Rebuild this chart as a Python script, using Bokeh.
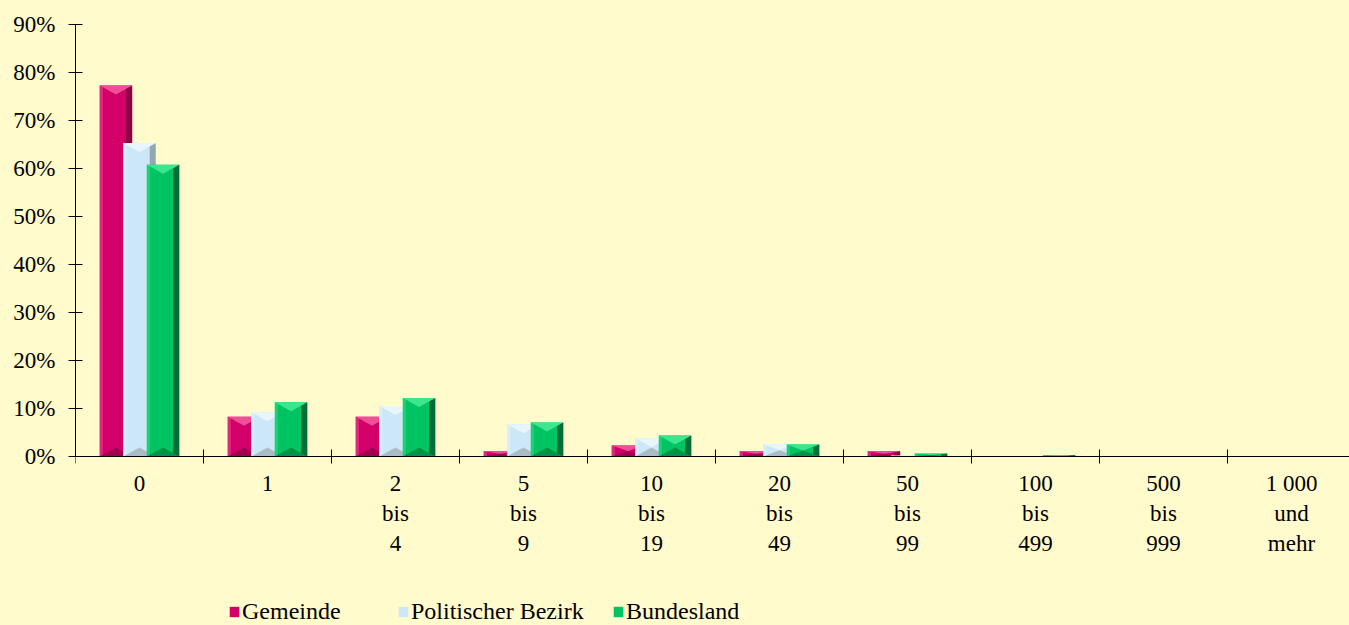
from bokeh.plotting import figure
from bokeh.models import (Range1d, FixedTicker, Legend, LegendItem, ColumnDataSource)
from bokeh.embed import file_html
from bokeh.resources import INLINE

# ---- data ----
categories = ["0", "1", "2\nbis\n4", "5\nbis\n9", "10\nbis\n19", "20\nbis\n49",
              "50\nbis\n99", "100\nbis\n499", "500\nbis\n999", "1 000\nund\nmehr"]
series_names = ["Gemeinde", "Politischer Bezirk", "Bundesland"]
gemeinde = [77.3, 8.3, 8.3, 1.1, 2.3, 1.1, 1.1, 0.0, 0.0, 0.0]
bezirk = [65.3, 9.2, 10.5, 6.7, 3.8, 2.6, 0.2, 0.1, 0.05, 0.0]
bundesland = [60.8, 11.3, 12.2, 7.1, 4.4, 2.5, 0.6, 0.3, 0.05, 0.02]
y_ticks = [0, 10, 20, 30, 40, 50, 60, 70, 80, 90]
y_tick_labels = ["0%", "10%", "20%", "30%", "40%", "50%", "60%", "70%", "80%", "90%"]

BG = "#FFFBCC"
FONT = "Liberation Serif"
# base, top facet, right facet, bottom facet, left facet
palettes = [
    ("#D4006A", "#F04E98", "#8C0044", "#A3004F", "#DE2A7E"),
    ("#CCE7F7", "#E8F5FD", "#94A7B4", "#A9BBC6", "#DAEEFA"),
    ("#00C462", "#3DE68E", "#006E36", "#00914A", "#1FD073"),
]
offsets = [-0.184, 0.0, 0.184]
bar_w = 0.253

W, H = 1349, 625
LEFT, TOP = 75, 24
AXIS_Y = 456                       # pixel row of the 0 % line
X_END = (W - LEFT) / 128.0
Y_END = 90
px_y = (AXIS_Y - TOP) / Y_END      # pixels per y unit
Y_START = -(H - AXIS_Y) / px_y     # room below the axis for labels + legend
px_x = (W - LEFT) / X_END
bevel_d = 9.0 / px_y
strip_r = 6.0 / px_x
strip_l = 3.0 / px_x

n = len(categories)
centers = [i + 0.5 for i in range(n)]

p = figure(width=W, height=H, output_backend="svg", toolbar_location=None,
           x_range=Range1d(0, X_END), y_range=Range1d(Y_START, Y_END),
           min_border_left=LEFT, min_border_right=0, min_border_top=TOP,
           min_border_bottom=0, background_fill_color=BG,
           border_fill_color=BG, outline_line_color=None)
p.xgrid.visible = False
p.ygrid.visible = False

renderers = []
for k, vals in enumerate([gemeinde, bezirk, bundesland]):
    base, c_top, c_right, c_bot, c_left = palettes[k]
    xs_c = [c + offsets[k] for c in centers]
    src = ColumnDataSource(dict(x=xs_c, top=vals))
    r = p.vbar(x="x", top="top", bottom=0, width=bar_w, source=src,
               fill_color=base, line_color=None)
    renderers.append(r)
    half = bar_w / 2
    tx, ty, bx, by, rx, ry, lx, ly = [], [], [], [], [], [], [], []
    for xc, v in zip(xs_c, vals):
        if v <= 0:
            continue
        x0, x1 = xc - half, xc + half
        d = min(bevel_d, v / 2.0)
        tx.append([x0, x1, xc]); ty.append([v, v, v - d])
        bx.append([x0, x1, xc]); by.append([0, 0, d])
        f = strip_r / half
        rx.append([x1, x1, x1 - strip_r, x1 - strip_r])
        ry.append([v, 0, d * f, v - d * f])
        g = strip_l / half
        lx.append([x0, x0, x0 + strip_l, x0 + strip_l])
        ly.append([v, 0, d * g, v - d * g])
    p.patches(xs=rx, ys=ry, fill_color=c_right, line_color=None)
    p.patches(xs=lx, ys=ly, fill_color=c_left, line_color=None)
    p.patches(xs=bx, ys=by, fill_color=c_bot, line_color=None)
    p.patches(xs=tx, ys=ty, fill_color=c_top, line_color=None)

# x axis at y = 0: labels at centres, boundary ticks as minor ticks
xa = p.xaxis[0]
xa.fixed_location = 0
xa.ticker = FixedTicker(ticks=centers, minor_ticks=list(range(0, n)))
xa.major_label_overrides = {c: lab for c, lab in zip(centers, categories)}
xa.major_tick_in = 0
xa.major_tick_out = 0
xa.minor_tick_in = 7
xa.minor_tick_out = 7
xa.minor_tick_line_color = "black"
xa.axis_line_color = "black"
xa.major_label_standoff = 7
xa.major_label_text_font = FONT
xa.major_label_text_font_size = "23px"
xa.major_label_text_color = "black"

ya = p.yaxis[0]
ya.bounds = (0, Y_END)
ya.ticker = FixedTicker(ticks=y_ticks)
ya.major_label_overrides = {t: lab for t, lab in zip(y_ticks, y_tick_labels)}
ya.major_tick_in = 7
ya.major_tick_out = 7
ya.minor_tick_line_color = None
ya.axis_line_color = "black"
ya.major_tick_line_color = "black"
ya.major_label_standoff = 13
ya.major_label_text_font = FONT
ya.major_label_text_font_size = "23px"
ya.major_label_text_color = "black"

legend_x = [153, 322, 537]
for k in range(3):
    lg = Legend(items=[LegendItem(label=series_names[k], renderers=[renderers[k]])],
                location=(legend_x[k], 0), orientation="horizontal",
                background_fill_alpha=0, border_line_alpha=0, padding=0, margin=0,
                spacing=0, label_standoff=2, glyph_width=12, glyph_height=13,
                label_height=12,
                label_text_font=FONT, label_text_font_size="24px",
                label_text_color="black")
    p.add_layout(lg)

html = file_html(p, INLINE)
style = "<style>html,body{margin:0;padding:0;background:%s;}</style>" % BG
html = html.replace("</head>", style + "</head>", 1)
open("out.html", "w").write(html)
